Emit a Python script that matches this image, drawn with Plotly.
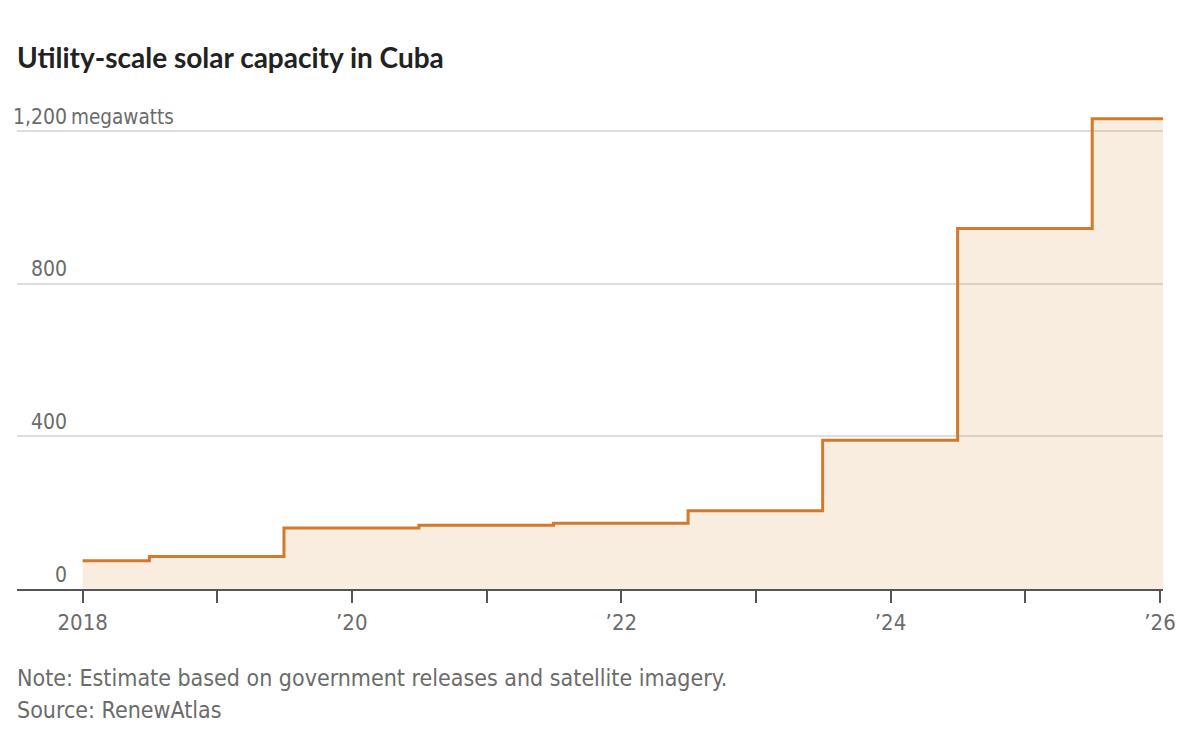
import plotly.graph_objects as go

# Data
step_dates = ["2018-01-01", "2018-07-01", "2019-07-01", "2020-07-01", "2021-07-01",
              "2022-07-01", "2023-07-01", "2024-07-01", "2025-07-01", "2026-01-09"]
capacity_mw = [74, 85, 160, 167, 172, 205, 390, 945, 1232, 1232]

x_tick_vals = ["2018-01-01", "2019-01-01", "2020-01-01", "2021-01-01", "2022-01-01",
               "2023-01-01", "2024-01-01", "2025-01-01", "2026-01-01"]
x_tick_text = ["2018", "", "\u201920", "", "\u201922", "", "\u201924", "", "\u201926"]
y_tick_vals = [0, 400, 800, 1200]
y_tick_text = ["0", "400", "800", "1,200"]

# The page body has an 8px margin, so the figure is drawn at (8, 8).
OFF = 8
W, H = 1200 - 2 * OFF, 749 - 2 * OFF
ML, MR, MT, MB = 17 - OFF, W - (1163 - OFF), 112 - OFF, H - (589 - OFF)
plot_w = W - ML - MR
plot_h = H - MT - MB


def px_x(page_x):
    return (page_x - 17) / plot_w


def py_y(page_y):
    return (589 - page_y) / plot_h


LINE = "#d4782a"
FILL = "rgba(220,150,70,0.17)"
GRAY = "#6b6b6b"
BODY_FONT = "Liberation Sans Narrow, DejaVu Sans Condensed, sans-serif"

fig = go.Figure()
fig.add_trace(go.Scatter(
    x=step_dates, y=capacity_mw, mode="lines", line=dict(shape="hv", color=LINE, width=3),
    fill="tozeroy", fillcolor=FILL, hoverinfo="skip", showlegend=False,
))

fig.update_layout(
    width=W, height=H,
    margin=dict(l=ML, r=MR, t=MT, b=MB, autoexpand=False),
    paper_bgcolor="white", plot_bgcolor="white",
    title=dict(text="<b>Utility-scale solar capacity in Cuba</b>", x=ML / W, xanchor="left",
               y=1 - (58 - OFF) / H, yanchor="middle",
               font=dict(family="Lato, sans-serif", size=28, color="#222222")),
    xaxis=dict(
        type="date", range=["2017-07-07", "2026-01-09"],
        tickvals=x_tick_vals, ticktext=x_tick_text,
        showgrid=False, zeroline=False,
        showline=True, linecolor="#555555", linewidth=1.5,
        ticks="outside", ticklen=12, tickwidth=1.5, tickcolor="#555555",
        ticklabelstandoff=1, automargin=False,
        tickfont=dict(family=BODY_FONT, size=22, color=GRAY),
        fixedrange=True,
    ),
    yaxis=dict(
        range=[0, 1250], tickvals=y_tick_vals, ticktext=y_tick_text,
        anchor="free", position=px_x(67), automargin=False,
        ticklabelposition="outside top", ticks="", showline=False,
        showgrid=True, gridcolor="#dddddd", gridwidth=1.5, zeroline=False,
        tickfont=dict(family=BODY_FONT, size=21, color=GRAY),
        fixedrange=True,
    ),
    annotations=[
        dict(text="megawatts", xref="paper", yref="y", x=px_x(69), y=1200,
             xanchor="left", yanchor="bottom", showarrow=False,
             font=dict(family=BODY_FONT, size=20.5, color=GRAY)),
        dict(text="Note: Estimate based on government releases and satellite imagery.",
             xref="paper", yref="paper", x=px_x(15), y=py_y(678),
             xanchor="left", yanchor="middle", showarrow=False,
             font=dict(family=BODY_FONT, size=23, color=GRAY)),
        dict(text="Source: RenewAtlas",
             xref="paper", yref="paper", x=px_x(15), y=py_y(710),
             xanchor="left", yanchor="middle", showarrow=False,
             font=dict(family=BODY_FONT, size=23, color=GRAY)),
    ],
)

fig.write_html("out.html", config={"displayModeBar": False})
